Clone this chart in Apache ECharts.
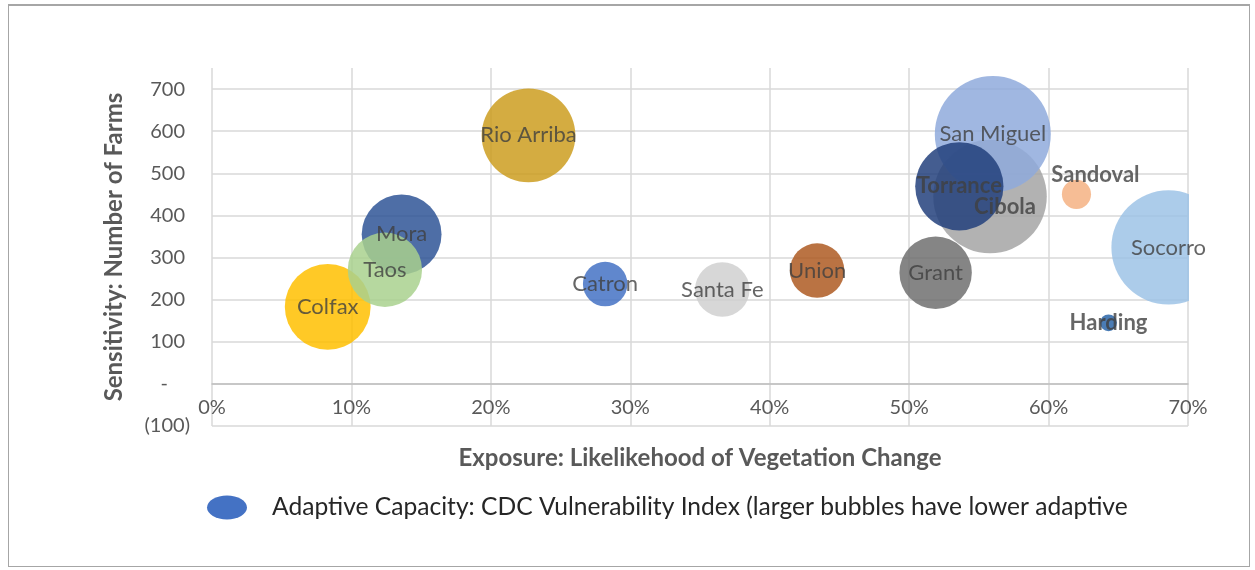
<!DOCTYPE html>
<html>
<head>
<meta charset="utf-8">
<script src="https://cdn.jsdelivr.net/npm/echarts@6/dist/echarts.min.js"></script>
<style>
  html, body { margin: 0; padding: 0; background: #fff; }
  #chart { position: absolute; left: 0; top: 0; width: 1255px; height: 570px; }
  #frame { position: absolute; left: 8px; top: 4px; width: 1240px; height: 560px;
           border: 1px solid #a6a6a6; border-top: 2px solid #a6a6a6; pointer-events: none; }
</style>
</head>
<body>
<div id="chart"></div>
<div id="frame"></div>
<script>
// counties, drawn in this order (later ones sit on top)
const counties = ['Colfax', 'Mora', 'Taos', 'Rio Arriba', 'Catron', 'Santa Fe', 'Union', 'Grant',
  'Cibola', 'San Miguel', 'Torrance', 'Sandoval', 'Socorro', 'Harding'];
// exposure: likelihood of vegetation change (%)
const exposure = [8.3, 13.6, 12.4, 22.7, 28.2, 36.6, 43.4, 51.9, 55.8, 56.0, 53.6, 62.0, 68.6, 64.3];
// sensitivity: number of farms
const farms = [183, 355, 271, 590, 237, 224, 269, 264, 445, 593, 469, 450, 324, 145];
// adaptive capacity: CDC vulnerability index (bubble size)
const vulnerability = [0.52, 0.45, 0.39, 0.62, 0.14, 0.21, 0.21, 0.37, 0.91, 0.95, 0.55, 0.06, 0.92, 0.02];
const boldLabels = ['Torrance', 'Cibola', 'Sandoval', 'Harding'];

const colors = ['#FFC000', '#2F5597', '#A9D18E', '#CC9E20', '#4472C4', '#D0D0D0', '#AE5A22', '#707070',
  '#A5A5A5', '#8FAADC', '#23417D', '#F4B183', '#9DC3E6', '#2A65A8'];
const labelOffsets = { 'Cibola': [15, 10], 'Sandoval': [19, -19] };

const legendText = 'Adaptive Capacity: CDC Vulnerability Index (larger bubbles have lower adaptive';
const fontFamily = 'Lato';
const maxSize = 116;

const bubbleData = counties.map((c, i) => ({
  name: c,
  value: [exposure[i], farms[i], vulnerability[i]],
  itemStyle: { color: colors[i] }
}));
const labelData = counties.map((c, i) => ({
  name: c,
  value: [exposure[i], farms[i], vulnerability[i]],
  label: {
    fontWeight: boldLabels.includes(c) ? 'bold' : 'normal',
    offset: labelOffsets[c] || [0, 0]
  }
}));

const chart = echarts.init(document.getElementById('chart'));
chart.setOption({
  animation: false,
  textStyle: { fontFamily: fontFamily },
  grid: { left: 212, right: 67, top: 68, bottom: 144 },
  legend: {
    left: 202, top: 490,
    itemWidth: 40, itemHeight: 24,
    data: [{ name: legendText, icon: 'path://M0,12a20,12 0 1,0 40,0a20,12 0 1,0 -40,0',
             itemStyle: { color: '#4472C4', opacity: 1 } }],
    textStyle: { fontFamily: fontFamily, fontSize: 24.6, color: '#262626', padding: [0, 0, 0, 20] }
  },
  xAxis: {
    type: 'value', min: 0, max: 70, interval: 10,
    name: 'Exposure: Likelikehood of Vegetation Change',
    nameLocation: 'middle', nameGap: 20,
    nameTextStyle: { fontFamily: fontFamily, fontSize: 24, fontWeight: 'bold', color: '#595959' },
    axisLine: { onZero: true, lineStyle: { color: '#bfbfbf', width: 1.5 } },
    axisTick: { show: false },
    axisLabel: { formatter: '{value}%', fontSize: 20, color: '#595959', margin: -28 },
    splitLine: { lineStyle: { color: '#d9d9d9', width: 1.5 } }
  },
  yAxis: {
    type: 'value', min: -100, max: 750, interval: 100,
    name: 'Sensitivity: Number of Farms',
    nameLocation: 'middle', nameGap: 86,
    nameTextStyle: { fontFamily: fontFamily, fontSize: 24, fontWeight: 'bold', color: '#595959' },
    axisLine: { show: false },
    axisTick: { show: false },
    axisLabel: {
      fontSize: 20, color: '#595959', margin: 22, showMaxLabel: false,
      formatter: v => v === 0 ? '{dash|-}' : (v < 0 ? '(' + (-v) + ')' : '{pos|' + v + '}'),
      rich: {
        dash: { fontSize: 20, color: '#595959', padding: [0, 22, 0, 0] },
        pos: { fontSize: 20, color: '#595959', padding: [0, 5, 0, 0] }
      }
    },
    splitLine: { showMaxLine: false, lineStyle: { color: '#d9d9d9', width: 1.5 } }
  },
  graphic: [{
    type: 'rect', z: 5, silent: true,
    shape: { x: 1189, y: 60, width: 60, height: 323 },
    style: { fill: '#ffffff' }
  }],
  series: [
    {
      name: legendText,
      type: 'scatter',
      z: 2,
      data: bubbleData,
      symbolSize: d => maxSize * Math.sqrt(d[2] / 0.95),
      itemStyle: { opacity: 0.85 },
      emphasis: { disabled: true }
    },
    {
      name: 'labels',
      type: 'scatter',
      z: 10,
      data: labelData,
      symbolSize: 0,
      silent: true,
      label: { show: true, position: 'inside', formatter: '{b}', fontFamily: fontFamily, fontSize: 22, color: '#404040' }
    }
  ]
});
</script>
</body>
</html>
